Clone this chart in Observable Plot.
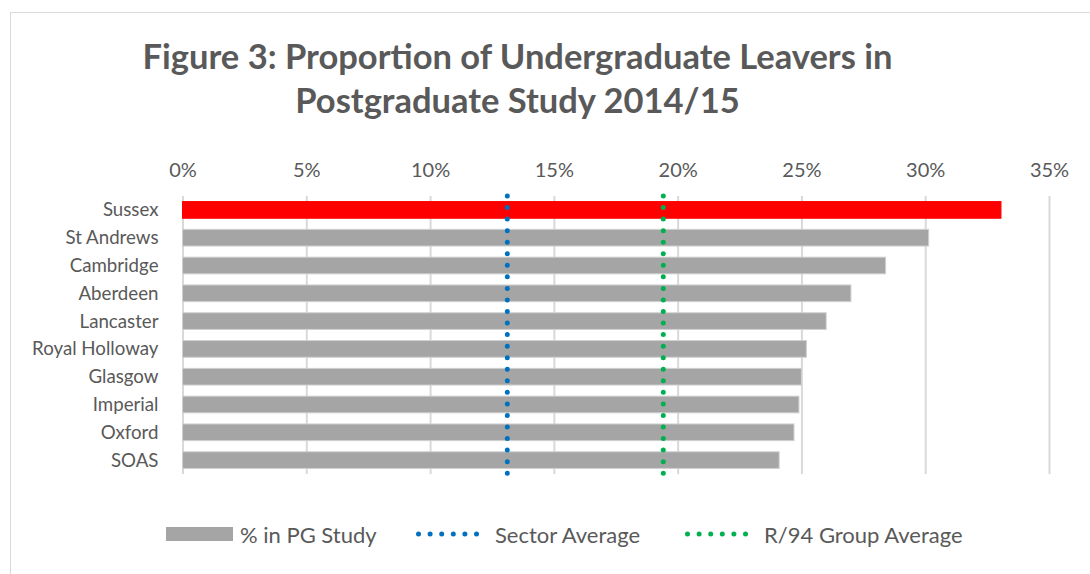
<!DOCTYPE html>
<html>
<head>
<meta charset="utf-8">
<script src="https://cdn.jsdelivr.net/npm/d3@7"></script>
<script src="https://cdn.jsdelivr.net/npm/@observablehq/plot@0.6"></script>
<style>
  html, body { margin: 0; padding: 0; background: #fff; }
  body { width: 1090px; height: 574px; position: relative; overflow: hidden; font-family: Lato, "Open Sans", sans-serif; color: #595959; }
  #frame { position: absolute; left: 10px; top: 12px; width: 1200px; height: 700px; border: 1.5px solid #d9d9d9; box-sizing: border-box; }
  #title { position: absolute; left: 0; width: 1035px; top: 34px; text-align: center; font-weight: bold; font-size: 34.5px; line-height: 44px; color: #595959; }
  #chart { position: absolute; left: 0; top: 0; }
  .leg { position: absolute; top: 520px; height: 28px; display: flex; align-items: center; font-size: 22px; color: #595959; white-space: nowrap; }
  .leg svg { margin-right: 12px; }
</style>
</head>
<body>
<div id="frame"></div>
<div id="title">Figure 3: Proportion of Undergraduate Leavers in<br>Postgraduate Study 2014/15</div>
<div id="chart"></div>
<div class="leg" id="leg1" style="left:166px"></div>
<div class="leg" id="leg2" style="left:416px"></div>
<div class="leg" id="leg3" style="left:685px"></div>
<script>
const universities = ["Sussex", "St Andrews", "Cambridge", "Aberdeen", "Lancaster", "Royal Holloway", "Glasgow", "Imperial", "Oxford", "SOAS"];
const pgShare = [0.3306, 0.3014, 0.284, 0.270, 0.260, 0.252, 0.250, 0.249, 0.247, 0.241];
const highlight = "Sussex";
const sectorAverage = 0.131;
const groupAverage = 0.194;
const xTicks = [0, 0.05, 0.10, 0.15, 0.20, 0.25, 0.30, 0.35];
const legendLabels = ["% in PG Study", "Sector Average", "R/94 Group Average"];

const data = universities.map((name, i) => ({name, value: pgShare[i]}));

const chart = Plot.plot({
  width: 1090,
  height: 490,
  marginTop: 196,
  marginBottom: 16,
  marginLeft: 182.5,
  marginRight: 41,
  style: {fontFamily: "Lato, 'Open Sans', sans-serif", color: "#595959", background: "transparent"},
  x: {domain: [0, 0.35], label: null},
  y: {domain: universities, paddingInner: 0.4, paddingOuter: 0.2, round: false, label: null},
  marks: [
    Plot.ruleX(xTicks, {stroke: "#d9d9d9", strokeWidth: 2}),
    Plot.barX(data, {x: "value", y: "name", fill: d => d.name === highlight ? "#ff0000" : "#a5a5a5", stroke: d => d.name === highlight ? "#ff0000" : "#d0d0d0", strokeWidth: 1}),
    Plot.ruleX([sectorAverage], {stroke: "#0070c0", strokeWidth: 5, strokeDasharray: "0,11.55", strokeLinecap: "round"}),
    Plot.ruleX([groupAverage], {stroke: "#00b050", strokeWidth: 5, strokeDasharray: "0,11.55", strokeLinecap: "round"}),
    Plot.axisX({anchor: "top", ticks: xTicks, tickFormat: d3.format(".0%"), tickSize: 0, tickPadding: 20, fontSize: 20, label: null}),
    Plot.axisY({tickSize: 0, tickPadding: 24.5, fontSize: 18.7, label: null})
  ]
});
document.getElementById("chart").appendChild(chart);

const ns = "http://www.w3.org/2000/svg";
function swatch() {
  const s = document.createElementNS(ns, "svg");
  s.setAttribute("width", 67); s.setAttribute("height", 14);
  const r = document.createElementNS(ns, "rect");
  r.setAttribute("width", 67); r.setAttribute("height", 14); r.setAttribute("fill", "#a5a5a5");
  s.appendChild(r);
  s.style.marginRight = "7px";
  return s;
}
function dots(color) {
  const s = document.createElementNS(ns, "svg");
  s.setAttribute("width", 67); s.setAttribute("height", 8);
  for (let i = 0; i < 6; i++) {
    const c = document.createElementNS(ns, "circle");
    c.setAttribute("cx", 2.5 + i * 11.6); c.setAttribute("cy", 4); c.setAttribute("r", 2.5);
    c.setAttribute("fill", color);
    s.appendChild(c);
  }
  return s;
}
[[ "leg1", swatch() ], [ "leg2", dots("#0070c0") ], [ "leg3", dots("#00b050") ]].forEach(([id, sym], i) => {
  const el = document.getElementById(id);
  el.appendChild(sym);
  const t = document.createElement("span");
  t.textContent = legendLabels[i];
  el.appendChild(t);
});
</script>
</body>
</html>
